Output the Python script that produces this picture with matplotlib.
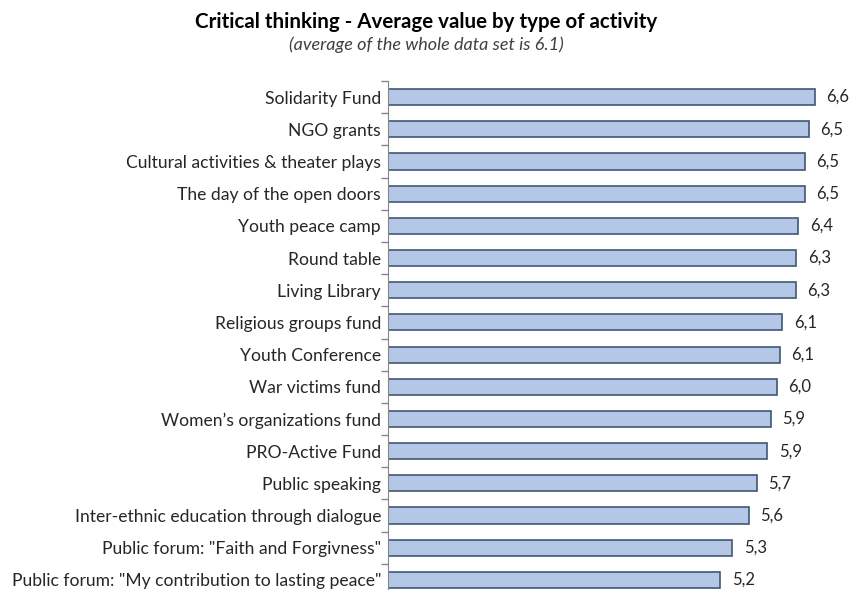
import matplotlib.pyplot as plt
import numpy as np

plt.rcParams['font.family'] = ['Lato', 'DejaVu Sans']

activities = [
    'Solidarity Fund',
    'NGO grants',
    'Cultural activities & theater plays',
    'The day of the open doors',
    'Youth peace camp',
    'Round table',
    'Living Library',
    'Religious groups fund',
    'Youth Conference',
    'War victims fund',
    'Women\u2019s organizations fund',
    'PRO-Active Fund',
    'Public speaking',
    'Inter-ethnic education through dialogue',
    'Public forum: "Faith and Forgivness"',
    'Public forum: "My contribution to lasting peace"',
]
averages = [6.62, 6.53, 6.47, 6.47, 6.37, 6.34, 6.33, 6.12,
            6.08, 6.03, 5.94, 5.89, 5.72, 5.60, 5.34, 5.16]

W, H = 852, 590
fig = plt.figure(figsize=(W / 100, H / 100), dpi=100)
# plot area measured in pixels from the reference
left, right, top, bottom = 388, 839, 81, 596
ax = fig.add_axes([left / W, (H - bottom) / H, (right - left) / W, (bottom - top) / H])

y = np.arange(len(activities))
ax.barh(y, averages, height=0.5, color='#b4c7e7', edgecolor='#3f5873', linewidth=1.2)

for yi, v in zip(y, averages):
    ax.text(v + 0.18, yi, f'{v:.1f}'.replace('.', ','), va='center', ha='left',
            fontsize=12, color='#262626')

ax.set_xlim(0, 7)
ax.set_ylim(len(activities) - 0.5, -0.5)
ax.set_yticks(y)
ax.set_yticklabels(activities, fontsize=12.6, color='#262626')
ax.set_yticks(np.arange(len(activities) + 1) - 0.5, minor=True)
ax.tick_params(axis='y', which='major', length=0, pad=5)
ax.tick_params(axis='y', which='minor', length=5, color='#868686', width=1)
ax.set_xticks([])

for side in ['top', 'right', 'bottom']:
    ax.spines[side].set_visible(False)
ax.spines['left'].set_color('#868686')

fig.text(0.5, 1 - 22 / H, 'Critical thinking - Average value by type of activity',
         ha='center', va='center', fontsize=14.8, fontweight='bold', color='#000000')
fig.text(0.5, 1 - 45 / H, '(average of the whole data set is 6.1)',
         ha='center', va='center', fontsize=13, style='italic', color='#404040')

fig.savefig('out.png', dpi=100)
